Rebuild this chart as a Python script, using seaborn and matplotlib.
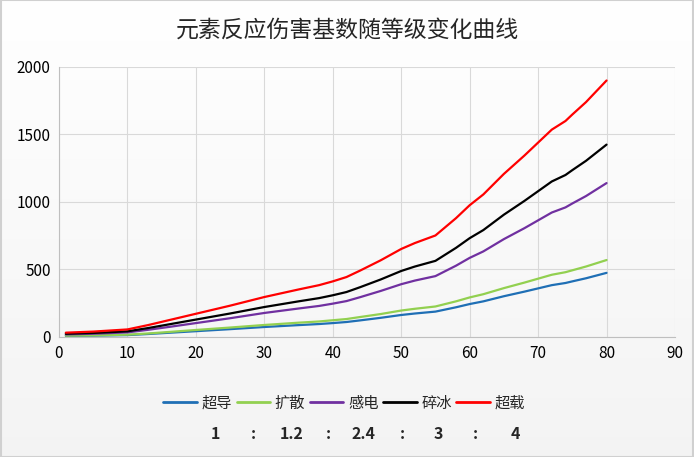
import numpy as np
import pandas as pd
import seaborn as sns
import matplotlib.pyplot as plt
from matplotlib.lines import Line2D
from matplotlib.patches import Rectangle

# -------------------------------------------------------------------
# Data
# -------------------------------------------------------------------
levels = [1, 5, 10, 13, 16, 20, 25, 30, 35, 38, 40, 42, 44, 47, 50, 52, 55, 58, 60, 62, 65, 68, 70, 72, 74, 75, 77, 80]

superconduct = [8, 10, 14, 22, 31, 43, 58, 74, 88, 96, 103, 111, 123, 142, 163, 174, 188, 220, 244, 264, 302,
                336, 360, 384, 400, 412, 435, 475]
swirl = [10, 12, 17, 26, 37, 52, 70, 89, 106, 115, 124, 133, 148, 170, 196, 209, 226, 264, 293, 317, 362,
         403, 432, 461, 480, 494, 522, 570]
electro = [19, 24, 34, 53, 74, 103, 139, 178, 211, 230, 247, 266, 295, 341, 391, 418, 451, 528, 586, 634, 725,
           806, 864, 922, 960, 989, 1044, 1140]
shatter = [24, 30, 42, 66, 93, 129, 174, 222, 264, 288, 309, 333, 369, 426, 489, 522, 564, 660, 732, 792, 906,
           1008, 1080, 1152, 1200, 1236, 1305, 1425]
overload = [32, 40, 56, 88, 124, 172, 232, 296, 352, 384, 412, 444, 492, 568, 652, 696, 752, 880, 976, 1056, 1208,
            1344, 1440, 1536, 1600, 1648, 1740, 1900]

names = ["超导", "扩散", "感电", "碎冰", "超载"]
ratios = ["1", "1.2", "2.4", "3", "4"]
colors = ["#1f6fb5", "#92d050", "#7030a0", "#000000", "#ff0000"]

df = pd.DataFrame({
    "level": levels * 5,
    "value": superconduct + swirl + electro + shatter + overload,
    "element": sum([[n] * len(levels) for n in names], []),
})

# -------------------------------------------------------------------
# Plot
# -------------------------------------------------------------------
sns.set_theme(style="white")
plt.rcParams["font.family"] = ["Noto Sans CJK SC", "DejaVu Sans"]

fig = plt.figure(figsize=(6.94, 4.57), dpi=100)

# soft background gradient (white -> light grey)
bg = fig.add_axes([0, 0, 1, 1], zorder=-10)
grad = np.linspace(1.0, 0.955, 256).reshape(-1, 1)
bg.imshow(np.dstack([grad, grad, grad]), aspect="auto", extent=[0, 1, 0, 1])
bg.set_axis_off()

ax = fig.add_axes([0.085, 0.2626, 0.8876, 0.5908])
ax.patch.set_alpha(0)

sns.lineplot(data=df, x="level", y="value", hue="element", palette=dict(zip(names, colors)),
             linewidth=1.6, ax=ax, legend=False)

ax.set_xlim(0, 90)
ax.set_ylim(0, 2000)
ax.set_xticks(range(0, 91, 10))
ax.set_yticks(range(0, 2001, 500))
ax.grid(True, color="#d9d9d9", linewidth=0.8)
ax.set_axisbelow(True)
for s in ["top", "right"]:
    ax.spines[s].set_visible(False)
for s in ["left", "bottom"]:
    ax.spines[s].set_color("#bfbfbf")
    ax.spines[s].set_linewidth(0.8)
ax.tick_params(axis="both", length=0, labelsize=11, colors="#000000", pad=6)
ax.set_xlabel("")
ax.set_ylabel("")

fig.text(0.5, 0.934, "元素反应伤害基数随等级变化曲线", ha="center", va="center", fontsize=16.5)

handles = [Line2D([0], [0], color=c, linewidth=2) for c in colors]
fig.legend(handles, names, loc="center", bbox_to_anchor=(0.496, 0.118), ncol=5, frameon=False,
           fontsize=11, handlelength=2.2, handletextpad=0.3, columnspacing=0.3)

# ratio row
ratio_x = [215, 292, 364, 438, 515]
colon_x = [253, 328, 402, 475]
for x, r in zip(ratio_x, ratios):
    fig.text(x / 694, 1 - 434 / 457, r, ha="center", va="center", fontsize=11.5, fontweight="bold")
for x in colon_x:
    fig.text(x / 694, 1 - 434 / 457, ":", ha="center", va="center", fontsize=11.5, fontweight="bold")

fig.patches.append(Rectangle((0.001, 0.001), 0.998, 0.998, transform=fig.transFigure,
                             fill=False, edgecolor="#d0d0d0", linewidth=1.5))

plt.savefig("out.png", dpi=100)
plt.close()
